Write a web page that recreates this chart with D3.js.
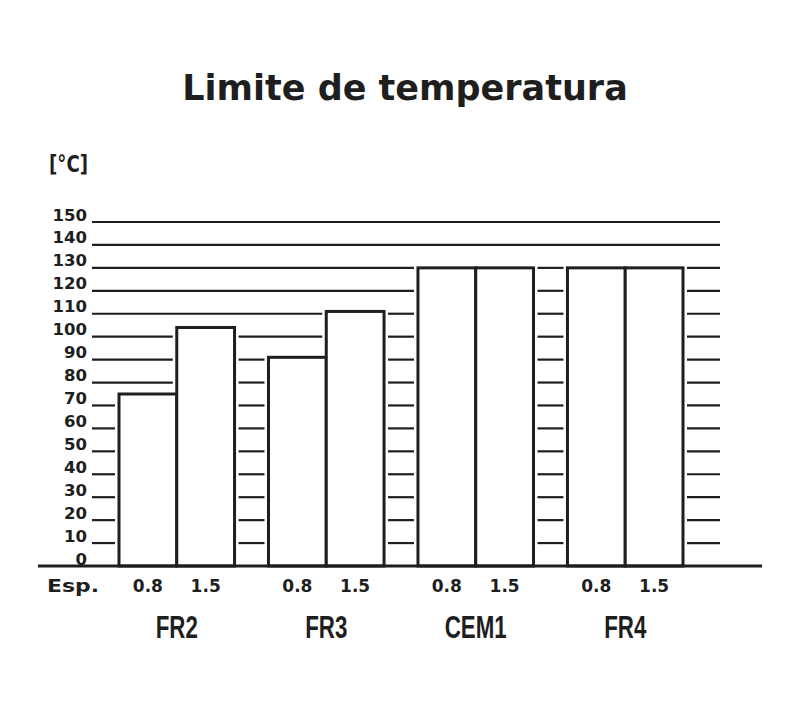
<!DOCTYPE html>
<html><head><meta charset="utf-8">
<script src="https://cdn.jsdelivr.net/npm/d3@7"></script>
<style>body{margin:0;background:#fff}</style>
</head><body>
<svg id="c" width="800" height="710"></svg>
<script>
const title = "Limite de temperatura";
const unitLabel = "[°C]";
const groups = ["FR2", "FR3", "CEM1", "FR4"];
const thickness = ["0.8", "1.5"];
const values08 = [75, 91, 130, 130];
const values15 = [104, 111, 130, 130];
const yTicks = [0,10,20,30,40,50,60,70,80,90,100,110,120,130,140,150];
const espLabel = "Esp.";

const ink = "#1e1e1e";
const svg = d3.select("#c");
const y = d3.scaleLinear().domain([0,150]).range([566, 222]);
const xG = d3.scaleBand().domain(groups).range([119, 683]).paddingInner(0.227).paddingOuter(0);
const xS = d3.scaleBand().domain(thickness).range([0, xG.bandwidth()]);

const bars = [];
groups.forEach((g,i)=>{
  bars.push({g, t:"0.8", v:values08[i]});
  bars.push({g, t:"1.5", v:values15[i]});
});
bars.forEach(b=>{ b.x0 = xG(b.g)+xS(b.t); b.x1 = b.x0 + xS.bandwidth(); });

svg.append("text").attr("x",405).attr("y",100).attr("text-anchor","middle")
  .attr("font-family","DejaVu Sans").attr("font-weight","bold").attr("font-size",35)
  .attr("fill",ink).text(title);

svg.append("text").attr("x",49).attr("y",172)
  .attr("font-family","DejaVu Sans").attr("font-weight","bold").attr("font-size",23)
  .attr("textLength",39).attr("lengthAdjust","spacingAndGlyphs")
  .attr("fill",ink).text(unitLabel);

// y labels
svg.append("g").selectAll("text").data(yTicks).join("text")
  .attr("x",87).attr("y",d=>y(d)-1.5).attr("text-anchor","end")
  .attr("font-family","DejaVu Sans").attr("font-weight","bold").attr("font-size",16.5)
  .attr("fill",ink).text(d=>d);

// gridlines with gaps around bars
const gx0 = 92, gx1 = 720, gap = 4;
const gl = svg.append("g").attr("stroke",ink).attr("stroke-width",2.2);
yTicks.filter(d=>d>0).forEach(v=>{
  const ex = bars.filter(b=>b.v >= v-1).map(b=>[b.x0-gap, b.x1+gap]).sort((a,b)=>a[0]-b[0]);
  let cur = gx0;
  const segs = [];
  ex.forEach(([a,b])=>{
    if (a > cur) segs.push([cur, a]);
    cur = Math.max(cur, b);
  });
  if (cur < gx1) segs.push([cur, gx1]);
  segs.forEach(([a,b])=>{
    gl.append("line").attr("x1",a).attr("x2",b).attr("y1",y(v)).attr("y2",y(v));
  });
});

// bars
svg.append("g").selectAll("rect").data(bars).join("rect")
  .attr("x",d=>d.x0).attr("y",d=>y(d.v)).attr("width",d=>d.x1-d.x0).attr("height",d=>y(0)-y(d.v))
  .attr("fill","#fff").attr("stroke",ink).attr("stroke-width",3);

// baseline
svg.append("line").attr("x1",38).attr("x2",762).attr("y1",y(0)).attr("y2",y(0))
  .attr("stroke",ink).attr("stroke-width",3);

// thickness labels
svg.append("g").selectAll("text").data(bars).join("text")
  .attr("x",d=>(d.x0+d.x1)/2).attr("y",592).attr("text-anchor","middle")
  .attr("font-family","DejaVu Sans").attr("font-weight","bold").attr("font-size",17)
  .attr("fill",ink).text(d=>d.t);

svg.append("text").attr("x",47).attr("y",592)
  .attr("font-family","DejaVu Sans").attr("font-weight","bold").attr("font-size",18)
  .attr("textLength",52).attr("lengthAdjust","spacingAndGlyphs")
  .attr("fill",ink).text(espLabel);

// group labels (condensed)
svg.append("g").selectAll("text").data(groups).join("text")
  .attr("transform",d=>`translate(${xG(d)+xG.bandwidth()/2},638) scale(0.72,1)`)
  .attr("text-anchor","middle")
  .attr("font-family","Liberation Sans").attr("font-weight","bold").attr("font-size",31)
  .attr("fill",ink).text(d=>d);
</script>
</body></html>
